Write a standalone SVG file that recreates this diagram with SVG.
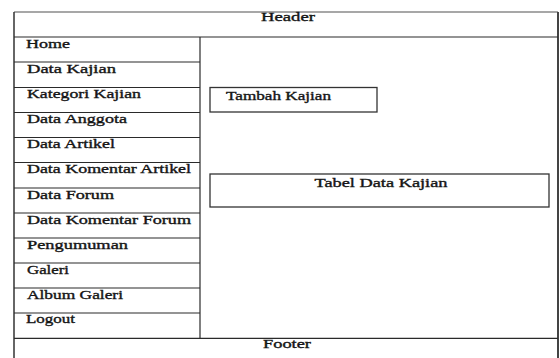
<svg xmlns="http://www.w3.org/2000/svg" width="560" height="358" viewBox="0 0 560 358">
<style>
.ln{stroke:#2a2a2a;stroke-width:1.2;fill:none}
.bx{stroke:#333;stroke-width:1.3;fill:#fff}
text{font-family:"Liberation Serif","Times New Roman",serif;font-size:12.5px;fill:#151515;stroke:#151515;stroke-width:0.35}
</style>
<rect width="560" height="358" fill="#fff"/>
<g id="frame">
<line x1="14" y1="12" x2="558" y2="12" stroke="#8a8a8a" stroke-width="1.5"/>
<line x1="14" y1="12" x2="14" y2="358" stroke="#333" stroke-width="1.5"/>
<line x1="558" y1="12" x2="558" y2="358" stroke="#444" stroke-width="2"/>
</g>
<g id="header">
<line class="ln" x1="14" y1="37" x2="558" y2="37"/>
<text x="261" y="21.3" textLength="54" lengthAdjust="spacingAndGlyphs">Header</text>
</g>
<g id="sidebar">
<line class="ln" x1="200" y1="37" x2="200" y2="338"/>
<line class="ln" x1="14" y1="62" x2="200" y2="62"/>
<line class="ln" x1="14" y1="87.5" x2="200" y2="87.5"/>
<line class="ln" x1="14" y1="112.5" x2="200" y2="112.5"/>
<line class="ln" x1="14" y1="137.5" x2="200" y2="137.5"/>
<line class="ln" x1="14" y1="162.5" x2="200" y2="162.5"/>
<line class="ln" x1="14" y1="188" x2="200" y2="188"/>
<line class="ln" x1="14" y1="213" x2="200" y2="213"/>
<line class="ln" x1="14" y1="238" x2="200" y2="238"/>
<line class="ln" x1="14" y1="263" x2="200" y2="263"/>
<line class="ln" x1="14" y1="288" x2="200" y2="288"/>
<line class="ln" x1="14" y1="313" x2="200" y2="313"/>
<text x="26" y="48" textLength="44" lengthAdjust="spacingAndGlyphs">Home</text>
<text x="27" y="73" textLength="89" lengthAdjust="spacingAndGlyphs">Data Kajian</text>
<text x="27" y="98.3" textLength="114" lengthAdjust="spacingAndGlyphs">Kategori Kajian</text>
<text x="27" y="123.3" textLength="100" lengthAdjust="spacingAndGlyphs">Data Anggota</text>
<text x="27" y="148.3" textLength="88" lengthAdjust="spacingAndGlyphs">Data Artikel</text>
<text x="27" y="173.3" textLength="164" lengthAdjust="spacingAndGlyphs">Data Komentar Artikel</text>
<text x="27" y="198.8" textLength="87" lengthAdjust="spacingAndGlyphs">Data Forum</text>
<text x="27" y="223.8" textLength="164" lengthAdjust="spacingAndGlyphs">Data Komentar Forum</text>
<text x="27" y="248.8" textLength="101" lengthAdjust="spacingAndGlyphs">Pengumuman</text>
<text x="27" y="273.8" textLength="42" lengthAdjust="spacingAndGlyphs">Galeri</text>
<text x="27" y="298.8" textLength="96" lengthAdjust="spacingAndGlyphs">Album Galeri</text>
<text x="26" y="323" textLength="49" lengthAdjust="spacingAndGlyphs">Logout</text>
</g>
<g id="tambah-kajian">
<rect class="bx" x="210" y="87.5" width="167" height="24.5"/>
<text x="226" y="100" textLength="105" lengthAdjust="spacingAndGlyphs">Tambah Kajian</text>
</g>
<g id="tabel-data-kajian">
<rect class="bx" x="210" y="174" width="339" height="33"/>
<text x="314.5" y="187.3" textLength="133" lengthAdjust="spacingAndGlyphs">Tabel Data Kajian</text>
</g>
<g id="footer">
<line class="ln" x1="14" y1="338.3" x2="558" y2="338.3"/>
<text x="263" y="348.3" textLength="48" lengthAdjust="spacingAndGlyphs">Footer</text>
</g>
</svg>
